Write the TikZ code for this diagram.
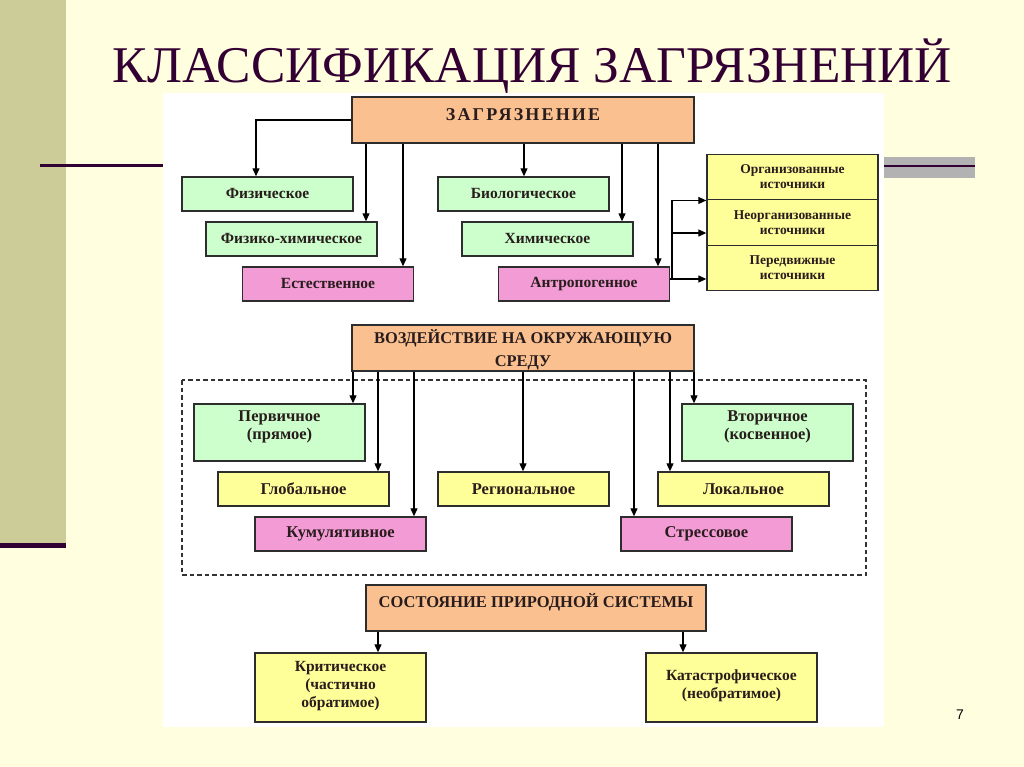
\documentclass[tikz,border=0pt]{standalone}
\usepackage{fontspec}
\setmainfont{Liberation Serif}
\newfontfamily\numfont{Liberation Sans}
\newfontfamily\spacedfont[LetterSpace=12]{Liberation Serif}
\usetikzlibrary{arrows.meta,calc}
\definecolor{slidebg}{RGB}{255,255,224}
\definecolor{olivestrip}{RGB}{204,204,153}
\definecolor{darkline}{RGB}{51,0,51}
\definecolor{grayband}{RGB}{178,178,178}
\definecolor{peach}{RGB}{250,192,144}
\definecolor{lgreen}{RGB}{204,255,204}
\definecolor{lpink}{RGB}{242,155,212}
\definecolor{lyellow}{RGB}{255,255,153}
\definecolor{boxline}{RGB}{45,45,45}
\definecolor{txt}{RGB}{40,28,28}
\newcommand{\upby}[2]{\raisebox{#1}[\height][\depth]{\begin{tabular}{@{}c@{}}#2\end{tabular}}}
\tikzset{
  box/.style={draw=boxline, line width=1.4pt, inner sep=2pt, align=center, text=txt,
    font=\bfseries\fontsize{15.5}{18}\selectfont},
  hdr/.style={box, fill=peach, minimum width=342pt, minimum height=46pt,
    font=\bfseries\fontsize{16.4}{23}\selectfont},
  grbox/.style={box, fill=lgreen, minimum width=171pt, minimum height=34pt},
  pkbox/.style={box, fill=lpink, minimum width=171pt, minimum height=34pt},
  ylbox/.style={box, fill=lyellow, minimum width=171pt, minimum height=34pt},
  midfont/.style={font=\bfseries\fontsize{16.5}{18}\selectfont},
  srcbox/.style={box, fill=lyellow, minimum width=171pt, minimum height=45.5pt,
    font=\bfseries\fontsize{13.5}{15}\selectfont},
  arr/.style={draw=black, line width=1.2pt, -{Triangle[length=8pt,width=7pt]}},
  ln/.style={draw=black, line width=1.2pt},
}
\begin{document}
\begin{tikzpicture}[x=1pt,y=-1pt]
\useasboundingbox (0,0) rectangle (1024,767);
% slide background
\fill[slidebg] (0,0) rectangle (1024,767);
\fill[olivestrip] (0,0) rectangle (66,545);
\fill[darkline] (0,543) rectangle (66,548);
\fill[darkline] (40,164.5) rectangle (163,167.5);
\fill[white] (163,93) rectangle (884,727);
\fill[grayband] (884,157) rectangle (975,178);
\fill[darkline] (884,165) rectangle (975,167.5);
% title
\node[anchor=base, text=darkline, inner sep=0pt,
  font=\fontsize{51.5}{56}\selectfont] (ttl) at (532.5,83) {КЛАССИФИКАЦИЯ ЗАГРЯЗНЕНИЙ};
\node[anchor=base, inner sep=0pt, text=black, font=\numfont\fontsize{14}{16}\selectfont] (pg) at (960,719) {7};

% top part
\node[hdr, font=\spacedfont\bfseries\fontsize{18}{22}\selectfont] (zag) at (523,120) {\upby{4pt}{ЗАГРЯЗНЕНИЕ}};
\node[grbox] (fiz) at (267.5,194) {Физическое};
\node[grbox] (fizhim) at (291.5,239) {Физико-химическое};
\node[pkbox] (est) at (328,284) {Естественное};
\node[grbox] (bio) at (523.5,194) {Биологическое};
\node[grbox] (him) at (547.5,239) {Химическое};
\node[pkbox] (antr) at (584,284) {Антропогенное};
\node[srcbox] (src1) at (792.5,177) {Организованные\\источники};
\node[srcbox] (src2) at (792.5,222.5) {Неорганизованные\\источники};
\node[srcbox] (src3) at (792.5,268) {Передвижные\\источники};

\coordinate (xa) at (256,0);
\coordinate (xb) at (366,0);
\coordinate (xc) at (403,0);
\coordinate (xd) at (524,0);
\coordinate (xe) at (622,0);
\coordinate (xf) at (658,0);
\coordinate (xg) at (672,0);
\draw[arr] (zag.west) -| (xa |- fiz.north);
\draw[arr] (xb |- zag.south) -- (xb |- fizhim.north);
\draw[arr] (xc |- zag.south) -- (xc |- est.north);
\draw[arr] (xd |- zag.south) -- (xd |- bio.north);
\draw[arr] (xe |- zag.south) -- (xe |- him.north);
\draw[arr] (xf |- zag.south) -- (xf |- antr.north);

\coordinate (s1) at (src1.south west);
\coordinate (s2) at ([yshift=-10.5pt]src2.west);
\coordinate (s3) at ([yshift=-11pt]src3.west);
\draw[ln] (xg |- s1) -- (xg |- s3);
\draw[arr] (xg |- s1) -- (s1);
\draw[arr] (xg |- s2) -- (s2);
\draw[arr] (antr.east |- s3) -- (s3);

% middle part
\node[hdr, inner sep=0pt] (vozd) at (523,348) {\upby{-2pt}{ВОЗДЕЙСТВИЕ НА ОКРУЖАЮЩУЮ\\СРЕДУ}};
\draw[line width=1.1pt, dash pattern=on 4.5pt off 3pt, draw=black!80] (182,380) rectangle (866,575);
\node[grbox, minimum height=57pt, midfont] (perv) at (279.5,432.5) {\upby{6pt}{Первичное\\(прямое)}};
\node[grbox, minimum height=57pt, midfont] (vtor) at (767.5,432.5) {\upby{6pt}{Вторичное\\(косвенное)}};
\node[ylbox, midfont] (glob) at (303.5,489) {Глобальное};
\node[ylbox, midfont] (reg) at (523.5,489) {Региональное};
\node[ylbox, midfont] (lok) at (743.5,489) {Локальное};
\node[pkbox, midfont] (kum) at (340.5,534) {Кумулятивное};
\node[pkbox, midfont] (stres) at (706.5,534) {Стрессовое};

\coordinate (ma) at (353,0);
\coordinate (mb) at (378,0);
\coordinate (mc) at (414,0);
\coordinate (md) at (523,0);
\coordinate (me) at (634,0);
\coordinate (mf) at (670,0);
\coordinate (mg) at (694,0);
\draw[arr] (ma |- vozd.south) -- (ma |- perv.north);
\draw[arr] (mb |- vozd.south) -- (mb |- glob.north);
\draw[arr] (mc |- vozd.south) -- (mc |- kum.north);
\draw[arr] (md |- vozd.south) -- (md |- reg.north);
\draw[arr] (me |- vozd.south) -- (me |- stres.north);
\draw[arr] (mf |- vozd.south) -- (mf |- lok.north);
\draw[arr] (mg |- vozd.south) -- (mg |- vtor.north);

% bottom part
\node[hdr, minimum width=340pt, font=\bfseries\fontsize{16.5}{20}\selectfont] (sost) at (536,608) {\upby{5pt}{СОСТОЯНИЕ ПРИРОДНОЙ СИСТЕМЫ}};
\node[ylbox, minimum height=69pt, font=\bfseries\fontsize{15.5}{18}\selectfont] (krit) at (340.5,687.5) {\upby{2pt}{Критическое\\(частично\\обратимое)}};
\node[ylbox, minimum height=69pt, font=\bfseries\fontsize{15.5}{18}\selectfont] (kat) at (731.5,687.5) {\upby{2pt}{Катастрофическое\\(необратимое)}};
\coordinate (ba) at (378,0);
\coordinate (bb) at (683,0);
\draw[arr] (ba |- sost.south) -- (ba |- krit.north);
\draw[arr] (bb |- sost.south) -- (bb |- kat.north);
\end{tikzpicture}
\end{document}
